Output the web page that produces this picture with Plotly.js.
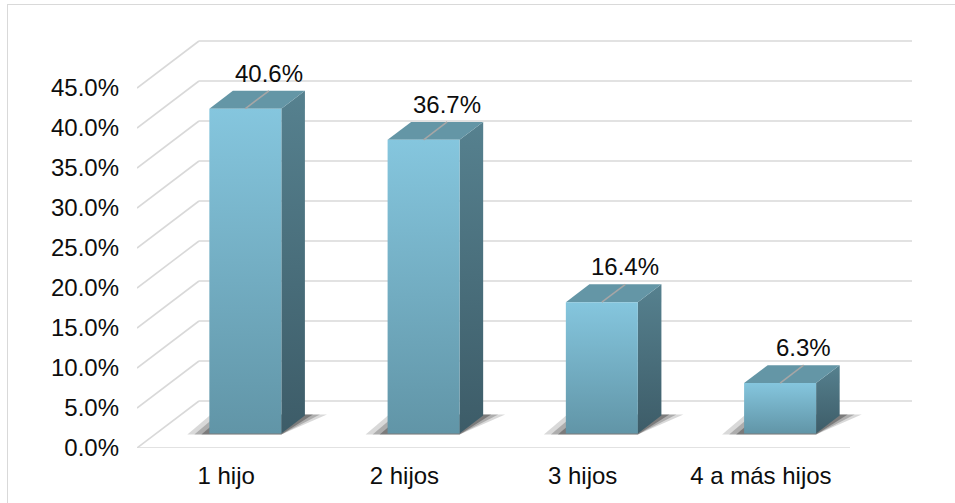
<!DOCTYPE html>
<html>
<head>
<meta charset="utf-8">
<script src="https://cdn.plot.ly/plotly-3.0.1.min.js"></script>
<style>
  html, body { margin: 0; padding: 0; background: #fff; }
  #wrap { position: relative; width: 955px; height: 503px; overflow: hidden; }
  #chart { width: 955px; height: 503px; }
  #frame { position: absolute; left: 7px; top: 4px; width: 960px; height: 520px;
           border: 1.5px solid #d9d9d9; pointer-events: none; box-sizing: border-box; }
</style>
</head>
<body>
<div id="wrap">
  <div id="chart"></div>
  <div id="frame"></div>
</div>
<script>
// ---- data ----
const categories = ['1 hijo', '2 hijos', '3 hijos', '4 a más hijos'];
const values = [40.6, 36.7, 16.4, 6.3];
const tickVals = [0, 5, 10, 15, 20, 25, 30, 35, 40, 45];
const tickText = tickVals.map(v => v.toFixed(1) + '%');
const labelText = values.map(v => v.toFixed(1) + '%');

// ---- geometry / style ----
const W = 955, H = 503;
const M = { l: 137, r: 43, t: 35, b: 55 };
const plotW = W - M.l - M.r, plotH = H - M.t - M.b;
const DPX = 62, DPY = 47;                     // depth of the 3D box in px
const pxPerX = (plotW - DPX) / categories.length;
const pxPerY = 8;
const depthX = DPX / pxPerX, depthY = DPY / pxPerY;
const X0 = -0.5, XF = categories.length - 0.5, X1 = XF + depthX;
const Y1 = plotH / pxPerY;
const fF = 0.31, fB = 0.69;                   // bar front/back depth fractions
const hw = 36 / pxPerX;                       // half bar width
const px2x = p => p / pxPerX, px2y = p => p / pxPerY;

const gridColor = '#d9d9d9';
const font = 'Liberation Sans, Arial, sans-serif';
const textColor = '#0d0d0d';

const shapes = [];
// back wall + side wall gridlines
tickVals.forEach(t => {
  shapes.push({ type: 'line', xref: 'x', yref: 'y', layer: 'below',
    x0: X0, y0: t, x1: X0 + depthX, y1: t + depthY, line: { color: gridColor, width: 1.6 } });
  shapes.push({ type: 'line', xref: 'x', yref: 'y', layer: 'below',
    x0: X0 + depthX, y0: t + depthY, x1: X1, y1: t + depthY, line: { color: gridColor, width: 1.6 } });
});
// floor front edge
shapes.push({ type: 'line', xref: 'x', yref: 'y', layer: 'below',
  x0: X0, y0: 0, x1: XF, y1: 0, line: { color: gridColor, width: 1.6 } });

const traces = [];
const annotations = [];

function poly(xs, ys, fill, extra) {
  return Object.assign({
    type: 'scatter', mode: 'lines', x: xs.concat([xs[0]]), y: ys.concat([ys[0]]),
    fill: 'toself', fillcolor: fill, line: { width: 0, color: 'rgba(0,0,0,0)' },
    hoverinfo: 'skip', showlegend: false
  }, extra || {});
}

values.forEach((v, i) => {
  const cF = i + fF * depthX, cB = i + fB * depthX;
  const bF = fF * depthY, bB = fB * depthY;
  const lF = cF - hw, rF = cF + hw, lB = cB - hw, rB = cB + hw;
  const tF = bF + v, tB = bB + v;

  // soft shadow (nested translucent polygons)
  [[22, 0.16], [15, 0.22], [8, 0.32]].forEach(([e, a]) => {
    traces.push(poly(
      [lF - px2x(e), rF, rB + px2x(e), lB - px2x(e)],
      [bF - px2y(1), bF - px2y(1), bB + px2y(1), bB + px2y(1)],
      'rgba(20,20,20,' + a + ')'));
  });
  // side face
  traces.push(poly([rF, rB, rB, rF], [bF, bB, tB, tF], '#4f7785', {
    fillgradient: { type: 'vertical', colorscale: [[0, '#3d5c68'], [1, '#56818f']] }
  }));
  // top face
  traces.push(poly([lF, rF, rB, lB], [tF, tF, tB, tB], '#6496a6'));
  // front face
  traces.push(poly([lF, rF, rF, lF], [bF, bF, tF, tF], '#74adc2', {
    fillgradient: { type: 'vertical', colorscale: [[0, '#6195a7'], [1, '#85c6de']] }
  }));
  // leader line
  shapes.push({ type: 'line', xref: 'x', yref: 'y', layer: 'above',
    x0: cF, y0: tF, x1: cB, y1: tB, line: { color: '#a6a6a6', width: 1.6 } });
  // data label
  annotations.push({ xref: 'x', yref: 'y', x: cB, y: tB, text: labelText[i],
    showarrow: false, xanchor: 'center', yanchor: 'bottom', yshift: 2,
    font: { family: font, size: 24, color: textColor } });
});

const layout = {
  width: W, height: H,
  margin: M,
  paper_bgcolor: '#ffffff', plot_bgcolor: '#ffffff',
  showlegend: false,
  font: { family: font, size: 24, color: textColor },
  xaxis: {
    range: [X0, X1], showgrid: false, zeroline: false, showline: false,
    tickmode: 'array', tickvals: categories.map((c, i) => i), ticktext: categories,
    ticks: '', ticklabelstandoff: 11, fixedrange: true,
    tickfont: { family: font, size: 24, color: textColor }
  },
  yaxis: {
    range: [0, Y1], showgrid: false, zeroline: false, showline: false,
    tickmode: 'array', tickvals: tickVals, ticktext: tickText,
    ticks: '', ticklabelstandoff: 17, fixedrange: true,
    tickfont: { family: font, size: 24, color: textColor }
  },
  shapes: shapes,
  annotations: annotations
};

Plotly.newPlot('chart', traces, layout, { displayModeBar: false, staticPlot: true });
</script>
</body>
</html>
